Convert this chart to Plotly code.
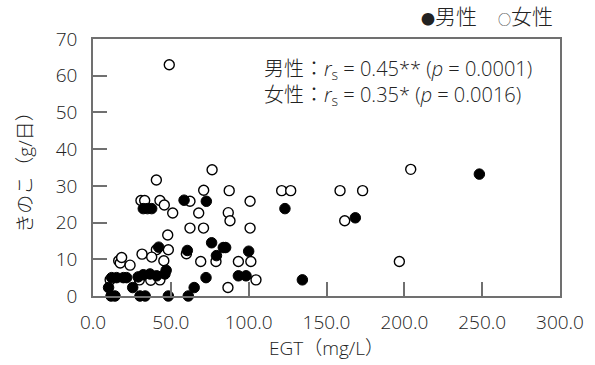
import plotly.graph_objects as go

# EGT (mg/L) vs mushroom intake (g/day), by sex
male_egt = [248.2, 123.3, 168.5, 134.5, 58.5, 72.8, 32.3, 35.0, 37.7, 76.2,
            83.7, 85.2, 79.3, 60.6, 100.0, 42.2, 72.6, 93.4, 98.3, 12.0,
            15.2, 19.5, 21.6, 29.0, 32.3, 36.6, 40.9, 46.2, 47.0, 10.0,
            25.5, 11.6, 14.1, 30.2, 33.5, 48.4, 61.2, 65.0]
male_mush = [33.2, 23.8, 21.3, 4.4, 26.1, 25.8, 23.8, 23.8, 23.8, 14.5,
             13.2, 13.2, 11.0, 12.4, 12.2, 13.3, 5.0, 5.5, 5.5, 5.0,
             5.0, 5.0, 5.0, 5.2, 5.8, 6.0, 5.5, 6.0, 7.0, 2.3,
             2.3, 0.0, 0.0, 0.0, 0.0, 0.0, 0.0, 2.3]

female_egt = [49.0, 204.1, 76.5, 40.7, 121.2, 127.0, 158.7, 173.2, 161.7, 196.8,
              104.7, 71.1, 87.5, 30.8, 33.2, 43.0, 45.8, 62.3, 100.9, 51.2,
              67.9, 86.9, 88.0, 62.3, 71.0, 100.9, 48.0, 40.7, 48.4, 31.5,
              37.7, 45.5, 60.0, 69.2, 79.0, 93.4, 101.4, 16.5, 17.5, 18.4,
              23.8, 11.0, 29.8, 37.1, 43.0, 86.7]
female_mush = [63.0, 34.5, 34.4, 31.6, 28.7, 28.7, 28.7, 28.7, 20.5, 9.4,
               4.4, 28.8, 28.7, 26.0, 26.0, 26.0, 24.8, 25.8, 25.8, 22.6,
               22.6, 22.7, 20.5, 18.5, 18.5, 18.5, 16.6, 12.6, 12.6, 11.4,
               10.6, 9.6, 11.5, 9.4, 9.4, 9.4, 9.4, 9.6, 9.0, 10.5,
               8.4, 4.4, 4.4, 4.3, 4.4, 2.3]

x_ticks = [0, 50, 100, 150, 200, 250, 300]
x_ticklabels = ["0.0", "50.0", "100.0", "150.0", "200.0", "250.0", "300.0"]
y_ticks = [0, 10, 20, 30, 40, 50, 60, 70]

FONT = "Open Sans, Noto Sans CJK JP, sans-serif"
TEXT = "#222222"
AXIS = "#707070"

fig = go.Figure()
fig.add_trace(go.Scatter(
    x=female_egt, y=female_mush, mode="markers", name="女性",
    marker=dict(size=10, color="white", line=dict(color="black", width=1.4)),
    cliponaxis=False,
))
fig.add_trace(go.Scatter(
    x=male_egt, y=male_mush, mode="markers", name="男性",
    marker=dict(size=10.5, color="black", line=dict(color="black", width=1)),
    cliponaxis=False,
))

axis_common = dict(
    showline=True, linecolor=AXIS, linewidth=1.5, mirror=True,
    ticks="inside", ticklen=14, tickcolor=AXIS, tickwidth=1.5,
    showgrid=False, zeroline=False,
    tickfont=dict(family=FONT, size=19, color=TEXT, weight=300),
)

fig.update_xaxes(
    range=[0, 300], tickvals=x_ticks, ticktext=x_ticklabels,
    ticklabelstandoff=8,
    title=dict(text="EGT（mg/L）", font=dict(family=FONT, size=19, color=TEXT, weight=300),
               standoff=6),
    **axis_common,
)
fig.update_yaxes(
    range=[0, 70], tickvals=y_ticks,
    ticklabelstandoff=10,
    title=dict(text="きのこ（g/日）", font=dict(family=FONT, size=19, color=TEXT, weight=300),
               standoff=18),
    **axis_common,
)

fig.add_annotation(
    xref="paper", yref="paper", x=0.362, y=0.945, xanchor="left", yanchor="top",
    align="left", showarrow=False,
    font=dict(family=FONT, size=20, color=TEXT, weight=300),
    text=("男性：<i>r</i><sub>s</sub> = 0.45** (<i>p</i> = 0.0001)<br>"
          "女性：<i>r</i><sub>s</sub> = 0.35* (<i>p</i> = 0.0016)"),
)
fig.add_annotation(
    xref="paper", yref="paper", x=0.99, y=1.088, xanchor="right", yanchor="middle",
    showarrow=False, font=dict(family=FONT, size=21, color=TEXT, weight=300),
    text=("<span style='font-size:14px'>●</span>男性　"
          "<span style='font-size:13px'>○</span>女性"),
)

fig.update_layout(
    width=595, height=365,
    margin=dict(l=93, r=35, t=39, b=69),
    paper_bgcolor="white", plot_bgcolor="white",
    showlegend=False,
    font=dict(family=FONT, color=TEXT),
)

fig.write_html("out.html")
